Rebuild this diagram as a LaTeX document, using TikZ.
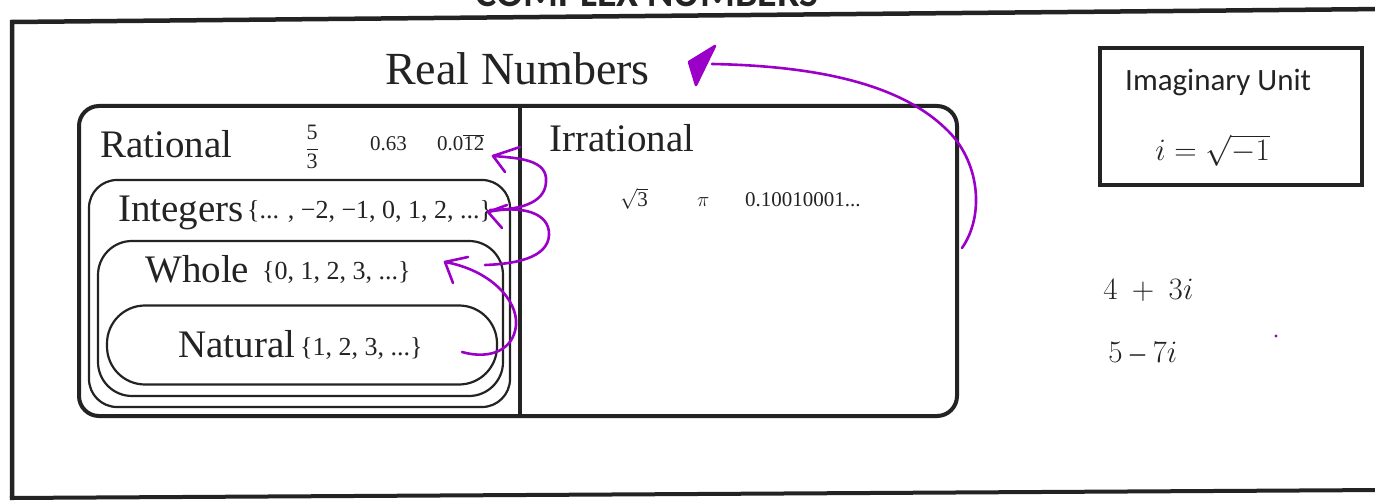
\documentclass[tikz,border=0pt]{standalone}
\usepackage{fontspec}
\setmainfont{Liberation Serif}
\newfontfamily\calib{Carlito}
\definecolor{penc}{RGB}{155,0,200}
\definecolor{ink}{RGB}{35,35,35}
\begin{document}
\begin{tikzpicture}[x=1pt,y=-1pt,
  frame/.style={line width=4.5pt, draw=ink},
  setbox/.style={draw=ink, line width=2.2pt, inner sep=0pt},
  lbl/.style={anchor=base west, inner sep=0pt, text=ink},
  pen/.style={draw=penc, line width=2.6pt, line cap=round, line join=round},
  big/.style={font=\fontsize{39}{42}\selectfont},
  small/.style={font=\fontsize{21}{24}\selectfont},
  setf/.style={font=\fontsize{26}{29}\selectfont}
]
\useasboundingbox (0,0) rectangle (1375,502);

% outer frame and cut-off title
\node[anchor=base, inner sep=0pt, text=ink] (title) at (647,7) {\calib\bfseries\fontsize{40}{40}\selectfont COMPLEX NUMBERS};
\draw[frame] (12,500) -- (12,22) -- (1385,9);
\draw[frame, line width=4pt] (10,498) -- (1385,490);

% real numbers box
\node[draw=ink, line width=4pt, rounded corners=20pt, minimum width=878pt, minimum height=310pt, inner sep=0pt] (real) at (518,261) {};
\draw[draw=ink, line width=3.5pt] (real.north) ++(2,0) coordinate (dtop) (dtop) -- (dtop |- real.south);

% nested sets
\node[setbox, rounded corners=28pt, minimum width=421pt, minimum height=227pt] (int) at (299.5,293.5) {};
\node[setbox, rounded corners=34pt, minimum width=405pt, minimum height=155pt] (whole) at (300.5,318.5) {};
\node[setbox, rounded corners=38pt, minimum width=390pt, minimum height=79pt] (nat) at (302,345) {};

% imaginary unit box
\node[draw=ink, line width=4pt, minimum width=262pt, minimum height=137pt, inner sep=0pt] (imag) at (1231,116.5) {};

% texts
\node[lbl, font=\fontsize{46}{50}\selectfont] (realt) at (385,85) {Real Numbers};
\node[lbl, big] (rat) at (100,158) {Rational};
\node[inner sep=0pt, text=ink, font=\fontsize{22}{24}\selectfont] (frac) at (312,147) {$\displaystyle\frac{\mbox{5}}{\mbox{3}}$};
\node[lbl, small] (r2) at (370,151) {0.63};
\node[lbl, small] (r3) at (437,151) {0.0$\overline{\mbox{12}}$};
\node[lbl, big] (irr) at (549,152) {Irrational};
\node[lbl, small] (sq3) at (620,207) {$\sqrt{\mbox{3}}$};
\node[lbl, small] (pi) at (697,207) {$\pi$};
\node[lbl, small] (irr3) at (745,207) {0.10010001...};
\node[lbl, big] (intt) at (118,222) {Integers};
\node[lbl, setf] (ints) at (247,219) {\{... , −2, −1, 0, 1, 2, ...\}};
\node[lbl, big] (wholet) at (145,283) {Whole};
\node[lbl, setf] (wholes) at (262,280) {\{0, 1, 2, 3, ...\}};
\node[lbl, big] (natt) at (178,357) {Natural};
\node[lbl, setf] (nats) at (300,355) {\{1, 2, 3, ...\}};
\node[lbl, font=\calib\fontsize{31}{34}\selectfont] (imt) at (1125,91) {Imaginary Unit};
\node[lbl, font=\fontsize{20}{24}\selectfont, scale=1.5] (imf) at (1155,161) {$i=\sqrt{-1}$};
\node[lbl, font=\fontsize{20}{24}\selectfont, scale=1.5] (c1) at (1103,300) {$4\ +\ 3i$};
\node[lbl, font=\fontsize{20}{24}\selectfont, scale=1.5] (c2) at (1108,362) {$5\ \mbox{–}\ 7i$};
\fill[penc] (1276,336) circle (1.6pt);

% purple hand-drawn arrows
\coordinate (tA) at (493,156);
\coordinate (eA) at (490,210);
\coordinate (tB) at (488,212);
\coordinate (eB) at (485,265);
\coordinate (tC) at (445,262);
\coordinate (eC) at (462,352);
\coordinate (sD) at (962,248);
\coordinate (tD) at (712,64);

\draw[pen] (tA) .. controls (520,158) and (548,160) .. (546,182) .. controls (545,205) and (515,210) .. (eA);
\draw[pen] (520,147) -- (tA) -- (505,172);
\draw[pen] (tB) .. controls (520,205) and (550,212) .. (549,235) .. controls (548,258) and (515,264) .. (eB);
\draw[pen] (507,205) -- (tB) -- (502,228);
\draw[pen] (tC) .. controls (490,270) and (518,300) .. (516,325) .. controls (514,350) and (490,360) .. (eC);
\draw[pen] (468,257) -- (tC) -- (453,283);
\draw[pen] (sD) .. controls (985,215) and (980,160) .. (945,128) .. controls (900,85) and (820,66) .. (tD);
\filldraw[pen, fill=penc] (689,62) -- (715,46) -- (696,85) -- cycle;
\end{tikzpicture}
\end{document}
